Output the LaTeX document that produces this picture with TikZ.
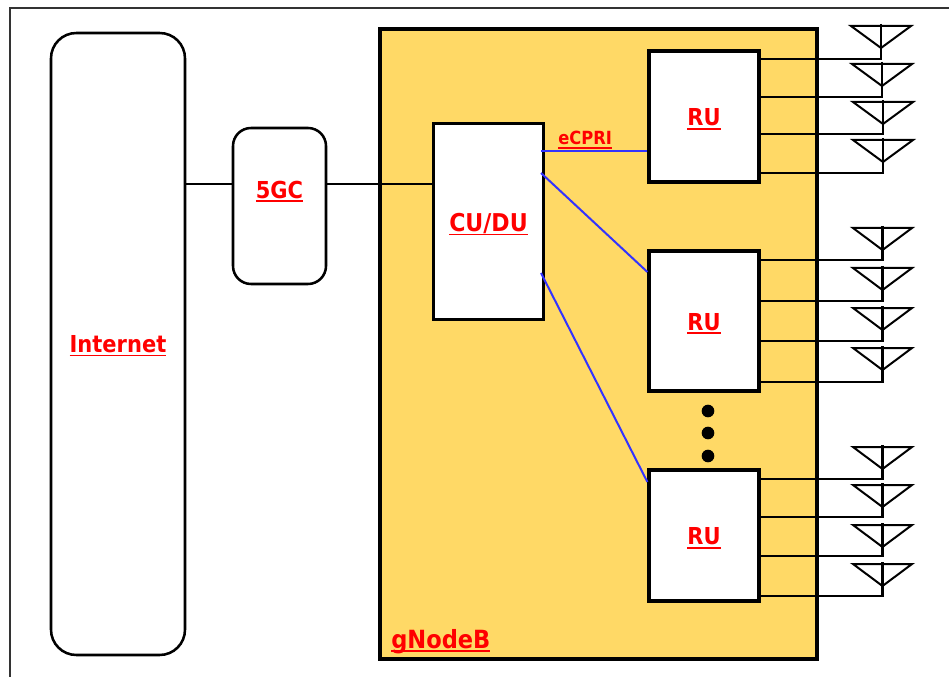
\documentclass[tikz,border=0pt]{standalone}
\usepackage{fontspec}
\setmainfont{DejaVu Sans Condensed}
\newcommand{\ulbl}[1]{\setbox0=\hbox{#1}\hbox{\rlap{\vrule width\wd0 height -1.5pt depth 2.8pt}\box0}}
\newcommand{\lowlbl}[1]{\raisebox{-2.1pt}[\height][\depth]{\ulbl{#1}}}
\definecolor{gnbfill}{RGB}{255,217,102}
\definecolor{ecprilink}{RGB}{51,51,255}
\tikzset{
  redlabel/.style={text=red,font=\bfseries\fontsize{#1}{#1}\selectfont,inner sep=0pt},
  unitbox/.style={draw=black,line width=2.4pt,fill=white,inner sep=0pt,text=red,font=\bfseries\fontsize{17.5}{17.5}\selectfont},
  roundbox/.style={unitbox,line width=1.9pt,rounded corners=#1},
  backhaul/.style={draw=black,line width=1.5pt},
  fronthaul/.style={draw=ecprilink,line width=1.5pt},
  feeder/.style={draw=black,line width=1.6pt},
  antennashape/.style={draw=black,line width=1.5pt,miter limit=4},
  morerus/.style={circle,fill=black,inner sep=0pt,minimum size=9.5pt}
}
\begin{document}
\begin{tikzpicture}[x=0.75pt,y=0.75pt,yscale=-1,xscale=1]
\useasboundingbox (0,0) rectangle (949,677);

%Frame
\coordinate (framecorner) at (10,8);
\draw [line width=1.2pt,draw=black!80] (10,677) -- (framecorner) -- (949,8);

%gNodeB area
\node (gnb) [draw=black,line width=3pt,fill=gnbfill,inner sep=0pt,minimum width=327.75pt,minimum height=472.5pt] at (598.5,344) {};
\node (gnblabel) [redlabel=18.8,anchor=base west] at (391,648) {\ulbl{gNodeB}};

%Boxes
\node (internet) [roundbox=19pt,minimum width=100.5pt,minimum height=466.5pt] at (118,344) {\raisebox{-1.5pt}[\height][\depth]{\ulbl{Internet}}};
\node (fivegc) [roundbox=13.5pt,minimum width=69.75pt,minimum height=117pt] at (279.5,206) {};
\node (fivegclabel) [redlabel=17.5] at (279.5,191.5) {\ulbl{5GC}};
\node (cudu) [unitbox,font=\bfseries\fontsize{18.4}{18.4}\selectfont,minimum width=82.5pt,minimum height=147pt] at (488.5,221.5) {\lowlbl{CU/DU}};
\node (ruA) [unitbox,minimum width=82.5pt,minimum height=98.25pt] at (704,116.5) {\lowlbl{RU}};
\node (ruB) [unitbox,minimum width=82.5pt,minimum height=105pt] at (704,321) {\lowlbl{RU}};
\node (ruC) [unitbox,minimum width=82.5pt,minimum height=98.25pt] at (704,535.5) {\lowlbl{RU}};

%Dots between the radio units
\node (dotA) [morerus] at (708,411) {};
\node (dotB) [morerus] at (708,433) {};
\node (dotC) [morerus] at (708,456) {};

%Links
\draw [backhaul] (internet.east |- 0,184) -- (fivegc.west |- 0,184);
\draw [backhaul] (fivegc.east |- 0,184) -- (cudu.west |- 0,184);
\coordinate (cuduA) at (541,151);
\coordinate (cuduB) at (541,173);
\coordinate (cuduC) at (541,273);
\coordinate (ruAin) at (ruA.west |- 0,151);
\coordinate (ruBin) at (ruB.west |- 0,272);
\coordinate (ruCin) at (ruC.west |- 0,482);
\draw [fronthaul] (cuduA) -- (ruAin);
\draw [fronthaul] (cuduB) -- (ruBin);
\draw [fronthaul] (cuduC) -- (ruCin);
\node (ecprilabel) [redlabel=13.6,anchor=base west] at (558,145) {\ulbl{eCPRI}};

%Antennas: left end, top, right end, foot, radio unit
\foreach \ax/\ay/\bx/\fy/\ru [count=\n] in {
  851/26/911/59/ruA, 852/64/912/97/ruA, 853/102/913/134/ruA, 853/140/913/173/ruA,
  853/228/912/260/ruB, 853/268/912/301/ruB, 853/308/912/341/ruB, 853/348/912/382/ruB,
  853/447/912/479/ruC, 853/485/912/517/ruC, 853/525/912/556/ruC, 853/564/912/596/ruC}
{
  \pgfmathsetmacro{\mx}{(\ax+\bx)/2}
  \coordinate (antL\n) at (\ax,\ay);
  \coordinate (antR\n) at (\bx,\ay);
  \coordinate (antT\n) at (\mx,\ay-2);
  \coordinate (antP\n) at (\mx,\ay+22);
  \coordinate (antF\n) at (\mx,\fy);
  \draw [antennashape] (antL\n) -- (antR\n) -- (antP\n) -- cycle;
  \draw [feeder] (antT\n) -- (antF\n) -- (\ru.east |- antF\n);
}
\end{tikzpicture}
\end{document}
